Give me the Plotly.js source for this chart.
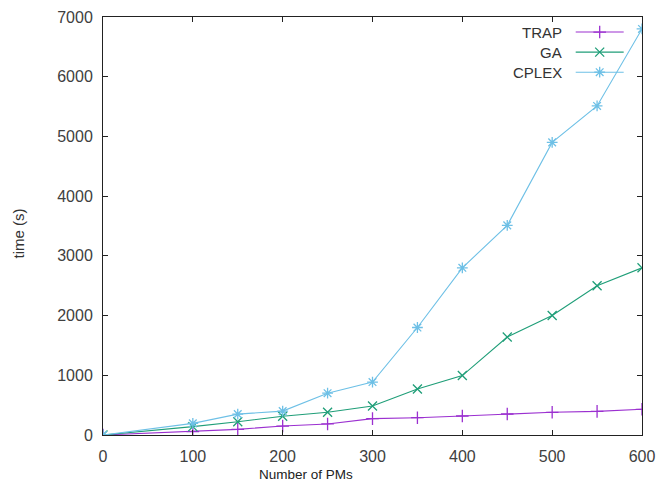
<!DOCTYPE html>
<html><head><meta charset="utf-8">
<script src="https://cdn.plot.ly/plotly-3.0.1.min.js"></script>
<style>body{margin:0;padding:0;background:#fff}#chart{width:657px;height:483px}</style>
</head><body><div id="chart"></div>
<script>
const pms = [0, 100, 150, 200, 250, 300, 350, 400, 450, 500, 550, 600];
const trap = [0, 55, 95, 150, 185, 275, 290, 318, 352, 380, 395, 430];
const ga = [0, 140, 223, 313, 380, 486, 770, 995, 1640, 2000, 2500, 2800];
const cplex = [0, 195, 350, 400, 700, 887, 1800, 2800, 3510, 4900, 5510, 6800];
const seriesNames = ['TRAP', 'GA', 'CPLEX'];
const colors = ['#9b30d0', '#1f9e78', '#6ec0e6'];
const symbols = ['cross-thin', 'x-thin', 'asterisk'];
const values = [trap, ga, cplex];
const xTicks = [0, 100, 200, 300, 400, 500, 600];
const yTicks = [0, 1000, 2000, 3000, 4000, 5000, 6000, 7000];
const FONT = 'Liberation Sans, Arial, sans-serif';

const traces = [];
values.forEach((v, i) => {
  traces.push({
    x: pms, y: v, type: 'scatter', mode: 'lines+markers', name: seriesNames[i],
    line: {color: colors[i], width: 1.1},
    marker: {symbol: symbols[i], size: 9, color: colors[i], line: {color: colors[i], width: 1.3}},
    showlegend: false, hoverinfo: 'skip'
  });
});

// gnuplot-style key: text right-aligned, sample on the right
const legendRowsY = [0.964, 0.916, 0.868];
const annotations = [];
const shapes = [];
seriesNames.forEach((n, i) => {
  annotations.push({xref: 'paper', yref: 'paper', x: 0.855, y: legendRowsY[i], xanchor: 'right', yanchor: 'middle',
    text: n, showarrow: false, font: {family: FONT, size: 15, color: '#333'}});
  shapes.push({type: 'line', xref: 'paper', yref: 'paper', x0: 0.877, x1: 0.966, y0: legendRowsY[i], y1: legendRowsY[i],
    line: {color: colors[i], width: 1.1}});
  traces.push({x: [0.9215], y: [legendRowsY[i]], xaxis: 'x2', yaxis: 'y2', type: 'scatter', mode: 'markers',
    marker: {symbol: symbols[i], size: 9, color: colors[i], line: {color: colors[i], width: 1.3}},
    showlegend: false, hoverinfo: 'skip'});
});
// axis titles placed as in the reference
annotations.push({xref: 'paper', yref: 'paper', x: 0.377, y: -0.1148, xanchor: 'center', yanchor: 'bottom',
  borderpad: 0, text: 'Number of PMs', showarrow: false, font: {family: FONT, size: 13.5, color: '#222'}});
annotations.push({xref: 'paper', yref: 'paper', x: -0.157, y: 0.483, xanchor: 'center', yanchor: 'middle', textangle: -90,
  text: 'time (s)', showarrow: false, font: {family: FONT, size: 15, color: '#333'}});

const tickFont = {family: FONT, size: 16, color: '#404040'};
const layout = {
  width: 657, height: 483,
  margin: {l: 103, r: 15, t: 17, b: 48},
  paper_bgcolor: '#fff', plot_bgcolor: '#fff',
  showlegend: false,
  xaxis: {range: [0, 600], tickvals: xTicks, ticktext: xTicks.map(String), ticks: 'inside', ticklen: 5,
    tickcolor: '#222', showline: true, linecolor: '#222', linewidth: 1, mirror: 'ticks', showgrid: false, zeroline: false,
    tickfont: tickFont, ticklabelstandoff: 7},
  yaxis: {range: [0, 7000], tickvals: yTicks, ticktext: yTicks.map(String), ticks: 'inside', ticklen: 5,
    tickcolor: '#222', showline: true, linecolor: '#222', linewidth: 1, mirror: 'ticks', showgrid: false, zeroline: false,
    tickfont: tickFont, ticklabelstandoff: 6},
  xaxis2: {range: [0, 1], overlaying: 'x', visible: false, fixedrange: true},
  yaxis2: {range: [0, 1], overlaying: 'y', visible: false, fixedrange: true},
  annotations: annotations,
  shapes: shapes
};
Plotly.newPlot('chart', traces, layout, {displayModeBar: false, staticPlot: true});
</script>
</body></html>
